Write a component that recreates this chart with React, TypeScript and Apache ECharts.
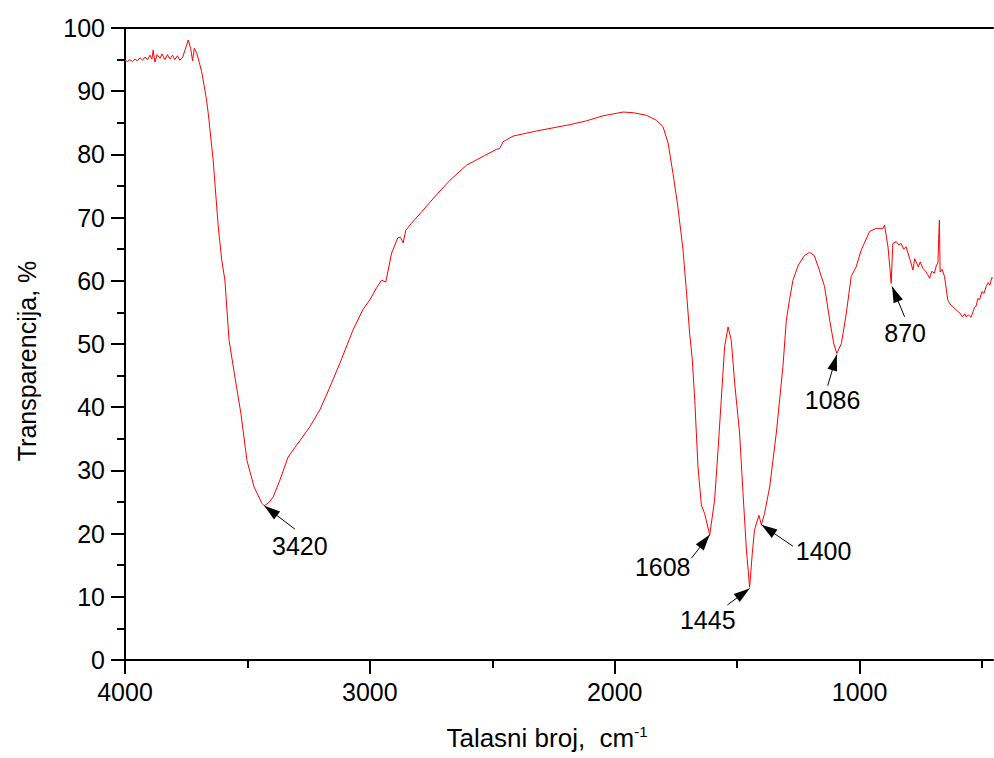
import React, { useEffect, useRef } from "react";
import * as echarts from "echarts";

// Wavenumber (cm^-1) and transmittance (%)
const wavenumbers = [
  4000, 3990, 3980, 3970, 3959, 3949, 3939, 3928, 3918, 3908, 3898, 3890, 3885, 3878, 3869, 3857, 3849, 3837,
  3827, 3816, 3806, 3796, 3786, 3776, 3765, 3755, 3742, 3732, 3724, 3717, 3707, 3697, 3687, 3676, 3667, 3660,
  3640, 3619, 3605, 3592, 3575, 3550, 3527, 3502, 3473, 3441, 3431, 3410, 3395, 3367, 3334, 3299, 3245, 3204,
  3163, 3122, 3069, 3029, 3000, 2971, 2952, 2935, 2911, 2886, 2875, 2864, 2853, 2830, 2782, 2728, 2673, 2605,
  2537, 2483, 2470, 2456, 2415, 2320, 2184, 2116, 2048, 1966, 1925, 1871, 1830, 1803, 1782, 1762, 1742, 1721,
  1707, 1694, 1683, 1673, 1660, 1646, 1633, 1612, 1592, 1578, 1565, 1551, 1537, 1524, 1510, 1490, 1476, 1462,
  1449, 1438, 1429, 1411, 1401, 1388, 1367, 1340, 1313, 1299, 1286, 1272, 1250, 1225, 1204, 1185, 1167, 1143,
  1122, 1105, 1093, 1074, 1054, 1034, 1014, 993, 959, 932, 905, 898, 884, 876, 871, 864, 850, 840, 830, 820,
  810, 796, 782, 775, 769, 760, 752, 742, 730, 722, 714, 705, 694, 686, 680, 677, 674, 671, 663, 653, 640, 630,
  619, 600, 590, 580, 570, 565, 555, 545, 537, 530, 524, 517, 510, 500, 492, 483, 475, 468, 460, 455,
];
const transmittance = [
  94.9, 94.7, 95.0, 94.7, 95.1, 94.8, 95.3, 94.9, 95.4, 95.0, 95.7, 95.1, 96.5, 94.6, 95.8, 95.2, 95.9, 95.0,
  95.8, 95.1, 95.7, 95.0, 95.6, 94.9, 95.3, 96.5, 98.1, 96.8, 94.8, 96.8, 96.0, 94.6, 93.1, 90.7, 88.6, 86.5,
  79.1, 68.5, 63.3, 60.1, 50.6, 44.5, 39.1, 31.6, 27.4, 24.8, 24.4, 25.0, 25.8, 28.5, 32.1, 34.0, 36.9, 39.6,
  43.2, 47.0, 52.2, 55.4, 57.0, 59.0, 60.1, 59.8, 64.4, 66.8, 66.9, 66.0, 68.0, 69.1, 71.2, 73.6, 75.9, 78.3,
  79.7, 80.8, 80.9, 82.0, 82.9, 83.7, 84.7, 85.3, 86.1, 86.7, 86.6, 86.2, 85.4, 84.4, 81.8, 77.0, 71.7, 64.9,
  58.3, 51.7, 47.5, 41.1, 30.6, 24.5, 23.2, 19.8, 25.3, 33.2, 41.1, 49.6, 52.7, 50.6, 43.8, 35.9, 26.4, 17.4,
  11.5, 16.9, 20.6, 22.9, 21.4, 23.2, 27.4, 35.9, 46.4, 53.8, 57.0, 60.1, 62.5, 64.0, 64.5, 64.0, 62.0, 59.1,
  53.8, 50.0, 48.5, 50.1, 54.9, 60.7, 62.2, 64.9, 67.8, 68.3, 68.3, 68.8, 65.4, 62.0, 59.6, 65.9, 66.2, 65.7,
  65.9, 65.0, 65.4, 63.6, 61.7, 63.5, 63.0, 62.2, 63.0, 62.0, 61.5, 61.0, 60.4, 61.5, 61.2, 62.5, 62.8, 66.5,
  69.6, 61.4, 61.8, 60.7, 57.0, 56.3, 55.9, 55.2, 54.9, 54.3, 54.8, 54.3, 54.6, 54.2, 55.1, 55.8, 56.0, 57.2,
  57.0, 58.3, 58.0, 59.1, 59.7, 59.3, 60.5, 60.4,
];

// Peak annotations
const peakLabels = ["3420", "1608", "1445", "1400", "1086", "870"];
const labelX = [3286, 1804, 1620, 1147, 1110, 814];
const labelY = [18.0, 14.7, 6.3, 17.2, 41.1, 51.7];
const arrowFromX = [3306, 1687, 1540, 1272, 1130, 816];
const arrowFromY = [20.7, 16.1, 8.7, 18.0, 43.4, 54.3];
const arrowToX = [3431, 1612, 1449, 1401, 1093, 867];
const arrowToY = [24.4, 19.8, 11.3, 21.4, 48.3, 59.1];

// Axis ticks
const xMajorTicks = [4000, 3000, 2000, 1000];
const xMinorTicks = [3500, 2500, 1500, 500];
const xMin = 455;
const xMax = 4000;

const FONT = "'Liberation Sans', Arial, sans-serif";

export default function App() {
  const ref = useRef<HTMLDivElement>(null);

  useEffect(() => {
    if (!ref.current) return;
    const chart = echarts.init(ref.current, null, { renderer: "svg" });
    const lineData = wavenumbers.map((w, i) => [w, transmittance[i]]);
    const arrows = arrowFromX.map((x, i) => [
      { coord: [x, arrowFromY[i]] },
      { coord: [arrowToX[i], arrowToY[i]] },
    ]);
    const labels = labelX.map((x, i) => ({
      value: [x, labelY[i]],
      name: peakLabels[i],
    }));

    chart.setOption({
      animation: false,
      backgroundColor: "#fff",
      textStyle: { fontFamily: FONT },
      grid: { left: 125, top: 28, right: 1, bottom: 98, containLabel: false },
      xAxis: [
        {
          type: "value",
          position: "bottom",
          inverse: true,
          min: xMin,
          max: xMax,
          name: "{a|Talasni broj,  cm}{s|-1}",
          nameLocation: "middle",
          nameGap: 64,
          nameTextStyle: {
            padding: [0, 24, 0, 0],
            rich: {
              a: { fontSize: 26, color: "#000", fontFamily: FONT, verticalAlign: "bottom" },
              s: { fontSize: 15, color: "#000", fontFamily: FONT, padding: [0, 0, 12, 0], verticalAlign: "bottom" },
            },
          },
          axisLine: { show: true, onZero: false, lineStyle: { color: "#000", width: 2 } },
          axisTick: { show: true, inside: false, length: 14, customValues: xMajorTicks, lineStyle: { color: "#000", width: 2 } },
          axisLabel: {
            show: true,
            customValues: xMajorTicks,
            formatter: (v: number) => String(v),
            fontSize: 25,
            color: "#000",
            margin: 19,
            fontFamily: FONT,
          },
          splitLine: { show: false },
        },
        {
          type: "value",
          position: "bottom",
          inverse: true,
          min: xMin,
          max: xMax,
          axisLine: { show: false, onZero: false },
          axisTick: { show: true, inside: false, length: 8, customValues: xMinorTicks, lineStyle: { color: "#000", width: 2 } },
          axisLabel: { show: false, customValues: xMinorTicks },
          splitLine: { show: false },
        },
        {
          type: "value",
          position: "top",
          inverse: true,
          min: xMin,
          max: xMax,
          axisLine: { show: true, onZero: false, lineStyle: { color: "#000", width: 2 } },
          axisTick: { show: false },
          axisLabel: { show: false },
          splitLine: { show: false },
        },
      ],
      yAxis: {
        type: "value",
        min: 0,
        max: 100,
        interval: 10,
        name: "Transparencija, %",
        nameLocation: "middle",
        nameGap: 86,
        nameRotate: 90,
        nameTextStyle: { fontSize: 25, color: "#000", fontFamily: FONT, padding: [0, 34, 0, 0] },
        axisLine: { show: true, onZero: false, lineStyle: { color: "#000", width: 2 } },
        axisTick: { show: true, inside: false, length: 14, lineStyle: { color: "#000", width: 2 } },
        minorTick: { show: true, splitNumber: 2, length: 8, lineStyle: { color: "#000", width: 2 } },
        axisLabel: { fontSize: 25, color: "#000", margin: 20, fontFamily: FONT },
        splitLine: { show: false },
      },
      series: [
        {
          type: "line",
          xAxisIndex: 0,
          data: lineData,
          showSymbol: false,
          symbol: "none",
          lineStyle: { color: "#ff0000", width: 1 },
          silent: true,
          markLine: {
            silent: true,
            symbol: ["none", "triangle"],
            symbolSize: [10, 16],
            symbolOffset: [
              [0, 0],
              [0, 8],
            ],
            label: { show: false },
            itemStyle: { color: "#000" },
            lineStyle: { color: "#000", width: 1, type: "solid", opacity: 1 },
            emphasis: { disabled: true },
            data: arrows,
          },
        },
        {
          type: "scatter",
          xAxisIndex: 0,
          data: labels,
          symbol: "circle",
          symbolSize: 0,
          itemStyle: { color: "#000", opacity: 1 },
          silent: true,
          label: {
            show: true,
            position: "inside",
            formatter: "{b}",
            fontSize: 25,
            color: "#000",
            opacity: 1,
            fontFamily: FONT,
          },
          emphasis: { disabled: true },
        },
      ],
    });

    return () => chart.dispose();
  }, []);

  return (
    <div
      ref={ref}
      style={{ position: "absolute", left: 0, top: 0, width: 994, height: 758, background: "#fff" }}
    />
  );
}
